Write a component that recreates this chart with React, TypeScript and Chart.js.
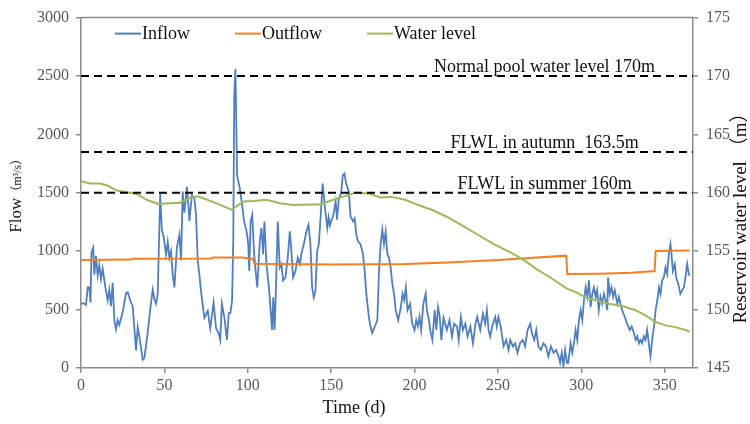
import React, { useEffect, useRef } from "react";
import { Chart, registerables } from "chart.js";

Chart.register(...registerables);

// ---------- data (day, value) ----------
const inflow: [number, number][] = [
  [0, 550], [1.5, 555], [3, 540], [4, 690], [5, 690], [5.7, 560], [6.3, 990], [7.3, 1030], [8, 800], [9, 960],
  [10, 790], [11, 880], [12, 760], [13, 850], [14.5, 700], [16, 580], [17, 670], [18, 530], [19, 730], [20, 410],
  [21, 330], [22, 410], [23, 370], [25, 480], [27, 640], [28, 650], [29.5, 580], [31, 530], [32, 340], [33, 150],
  [34, 350], [35, 270], [37, 70], [38, 85], [40, 300], [41.5, 500], [43, 670], [44, 590], [45, 550], [46, 630],
  [47.5, 1490], [48.5, 1180], [49.5, 1130], [51, 970], [52, 1080], [53, 940], [54, 1000], [55, 800], [56, 690], [57.5, 1030],
  [59, 1140], [60, 920], [61, 1510], [62, 1330], [63.5, 1550], [64.5, 1370], [65, 1260], [66.5, 1480], [68, 1450], [69, 1310],
  [70, 920], [71, 800], [72, 650], [73, 540], [74, 430], [76, 490], [77.5, 340], [78.5, 450], [79.5, 560], [81, 340],
  [82.5, 300], [83.5, 240], [84.5, 550], [86, 430], [87.5, 240], [88.6, 470], [89.6, 470], [90.6, 580], [91.3, 1080], [91.9, 2330],
  [92.6, 2560], [93.6, 1650], [95.2, 1540], [96.6, 1400], [97.8, 1255], [99.3, 1170], [100.3, 1060], [100.9, 830], [101.7, 1255], [102.7, 1310],
  [103.7, 1000], [104.7, 830], [105.7, 690], [107.2, 1085], [108.2, 1200], [109.2, 975], [110, 1255], [111.2, 890], [112.7, 690], [113.7, 495],
  [114.6, 325], [115.3, 605], [116.1, 325], [116.8, 635], [118, 1255], [119.2, 860], [120.2, 890], [121.2, 750], [122.6, 775], [124, 945],
  [125.2, 1170], [126, 1030], [127.2, 775], [128.6, 830], [130, 945], [131.3, 890], [132.1, 975], [133.6, 1060], [135.2, 1170], [136.4, 1225],
  [137.6, 1060], [138.6, 690], [139.6, 605], [140.6, 660], [141.6, 1000], [142.6, 1060], [143.9, 1340], [144.9, 1580], [146.3, 1370], [147.7, 1200],
  [148.5, 1290], [149.3, 1220], [150.3, 1270], [151, 1290], [152.7, 1425], [153.5, 1270], [154.6, 1450], [156, 1500], [157, 1650], [158, 1665],
  [159, 1580], [160.6, 1510], [161.6, 1300], [163.1, 1255], [164.1, 1280], [165.1, 1140], [166.1, 1085], [167.6, 1060], [169.1, 975], [170.1, 830],
  [171.1, 635], [172.6, 440], [173.6, 355], [174.6, 300], [176.2, 355], [177.7, 410], [178.7, 830], [179.7, 1060], [180.7, 1185], [181.7, 1060],
  [182.7, 1170], [183.7, 975], [184.7, 945], [185.7, 860], [186.7, 720], [187.7, 635], [188.7, 495], [190.2, 410], [191.8, 520], [192.8, 635],
  [193.8, 580], [194.8, 690], [195.8, 495], [197.3, 550], [198.6, 380], [200, 325], [201, 410], [202, 355], [203, 440], [204, 325],
  [205.3, 550], [206.7, 635], [207.4, 495], [208.7, 410], [209.4, 325], [210.7, 240], [212.1, 495], [213.1, 325], [214.1, 520], [215.1, 440],
  [216.1, 240], [217.4, 430], [219.4, 325], [221, 410], [222.5, 270], [223.8, 380], [225.5, 355], [226.5, 240], [227.8, 437], [229, 325],
  [230.5, 380], [231.8, 270], [233.5, 355], [235, 212], [236.6, 380], [237.6, 437], [239.4, 325], [241, 465], [242.4, 380], [243.4, 495],
  [244.4, 325], [245.4, 270], [247, 380], [248.4, 437], [249.3, 355], [250.3, 437], [251.7, 355], [253.4, 185], [255, 240], [256.4, 155],
  [257.4, 240], [259, 185], [260.4, 212], [261.7, 130], [263.3, 212], [264.9, 240], [266.3, 185], [267.8, 325], [269.4, 380], [270.4, 297],
  [271.8, 240], [273, 325], [274.3, 185], [275.8, 155], [277.3, 212], [278.8, 185], [280.3, 100], [281.8, 185], [283.4, 130], [284.9, 155],
  [286.4, 100], [287.3, 45], [288.3, 130], [289.3, 15], [290.3, 155], [291.4, 45], [292.2, 45], [293.6, 212], [294.6, 130], [295.6, 212],
  [296.6, 325], [297.6, 240], [298.6, 410], [299.6, 495], [300.6, 410], [301.6, 580], [302.6, 690], [303.6, 610], [304.6, 750], [305.6, 520],
  [306.6, 635], [307.6, 690], [308.6, 610], [309.5, 665], [310.5, 495], [311.5, 610], [312.5, 550], [313.6, 635], [314.6, 580], [315.6, 495],
  [316.1, 775], [317.1, 635], [318.1, 690], [319.1, 610], [320.1, 665], [321.6, 550], [322.6, 610], [323.5, 550], [324.5, 495], [326.1, 437],
  [327.5, 380], [329, 325], [330.2, 355], [331.6, 297], [332.6, 240], [333.6, 270], [334.6, 212], [335.5, 240], [336.5, 212], [337.5, 270],
  [338.5, 240], [339.5, 325], [340.5, 212], [341.5, 100], [342.5, 240], [343.6, 355], [344.6, 495], [345.6, 580], [346.6, 690], [347.5, 635],
  [348.5, 750], [349.5, 775], [350.5, 860], [351.5, 805], [352.5, 975], [353.5, 1060], [354.1, 975], [354.9, 830], [356.1, 890], [356.9, 775],
  [358.2, 720], [359.4, 635], [360.5, 665], [361.5, 690], [362.5, 775], [363.5, 890], [364.5, 805], [365, 790],
];

const outflow: [number, number][] = [
  [0, 925], [30, 928], [31, 935], [78, 938], [79, 946], [97, 945], [101, 938], [103, 935], [104, 892], [150, 887],
  [195, 890], [220, 903], [250, 925], [291, 962], [291.6, 805], [310, 808], [330, 815], [344, 830], [344.6, 1002], [365, 1005],
];

const waterLevel: [number, number][] = [
  [0, 161.0], [5.4, 160.8], [11.4, 160.8], [15.4, 160.65], [21.4, 160.2], [27.4, 160.05], [33.4, 159.9], [39.4, 159.4],
  [46.3, 159.05], [53.3, 159.1], [59.3, 159.15], [65.3, 159.55], [70.3, 159.7], [81.3, 159.1], [90.3, 158.55], [97.3, 159.25],
  [103.2, 159.3], [111.2, 159.4], [119.2, 159.1], [127.2, 158.95], [137.2, 159.0], [143.2, 159.0], [154.4, 159.55], [164.4, 160.0],
  [172.4, 159.95], [179.4, 159.6], [186.3, 159.65], [194.3, 159.4], [202.3, 158.95], [210.3, 158.55], [219.3, 157.95], [227.5, 157.3],
  [237.5, 156.45], [247.5, 155.6], [257.5, 154.9], [265.4, 154.25], [273.4, 153.45], [281.4, 152.75], [291.4, 151.8], [296.6, 151.5],
  [302.6, 151.05], [308.6, 150.8], [316.6, 150.5], [324.6, 150.3], [332.5, 149.95], [338.5, 149.5], [344.5, 148.95], [350.5, 148.65],
  [356.5, 148.5], [362.5, 148.25], [365, 148.1],
];

const refLevels = [170, 163.5, 160];
const refLabels = ["Normal pool water level 170m", "FLWL in autumn  163.5m", "FLWL in summer 160m"];
const labelDay = 278;

const xTicks = [0, 50, 100, 150, 200, 250, 300, 350];
const xMin = 0;
const xMax = 367;
const flowMin = 0;
const flowMax = 3000;
const flowStep = 500;
const levelMin = 145;
const levelMax = 175;
const levelStep = 5;

const seriesNames = ["Inflow", "Outflow", "Water level"];
const BLUE = "#4F7FC0";
const ORANGE = "#F7801E";
const GREEN = "#9BBB59";
const AXIS = "#8C8C8C";
const TICK = "#595959";
const SERIF = '"Liberation Serif", "Times New Roman", serif';

const pts = (arr: [number, number][]) => arr.map(([x, y]) => ({ x, y }));

const decor = {
  id: "decor",
  afterDatasetsDraw(chart: any) {
    const { ctx, chartArea: a, scales } = chart;
    ctx.save();
    // top border
    ctx.strokeStyle = AXIS;
    ctx.lineWidth = 1.5;
    ctx.beginPath();
    ctx.moveTo(a.left, a.top);
    ctx.lineTo(a.right, a.top);
    ctx.stroke();

    // reference labels
    ctx.fillStyle = "#111";
    ctx.font = `18px ${SERIF}`;
    ctx.textAlign = "center";
    ctx.textBaseline = "alphabetic";
    refLevels.forEach((lv, i) => {
      const y = scales.y1.getPixelForValue(lv);
      const x = scales.x.getPixelForValue(labelDay);
      ctx.fillText(refLabels[i], x, y - 4);
    });

    // legend inside the plot
    const colors = [BLUE, ORANGE, GREEN];
    let lx = a.left + 34;
    const ly = a.top + 16;
    ctx.textAlign = "left";
    ctx.textBaseline = "middle";
    seriesNames.forEach((name, i) => {
      ctx.strokeStyle = colors[i];
      ctx.lineWidth = 2;
      ctx.beginPath();
      ctx.moveTo(lx, ly);
      ctx.lineTo(lx + 26, ly);
      ctx.stroke();
      ctx.fillStyle = "#111";
      ctx.fillText(name, lx + 27, ly + 1);
      lx += 27 + ctx.measureText(name).width + 45;
    });

    // x title
    ctx.textAlign = "center";
    ctx.textBaseline = "middle";
    ctx.fillStyle = "#111";
    ctx.font = `18px ${SERIF}`;
    ctx.fillText("Time (d)", a.left + 273, a.bottom + 40);

    // left title (rotated)
    const cyL = (a.top + a.bottom) / 2;
    ctx.save();
    ctx.translate(17, cyL);
    ctx.rotate(-Math.PI / 2);
    ctx.textAlign = "left";
    ctx.textBaseline = "middle";
    ctx.font = `17px ${SERIF}`;
    const w1 = ctx.measureText("Flow").width;
    ctx.font = `12px ${SERIF}, "Noto Sans CJK SC"`;
    const w2 = ctx.measureText("（m³/s）").width;
    const start = -(w1 + w2) / 2;
    ctx.font = `17px ${SERIF}`;
    ctx.fillText("Flow", start, 0);
    ctx.font = `12px ${SERIF}, "Noto Sans CJK SC"`;
    ctx.fillText("（m³/s）", start + w1, 1);
    ctx.restore();

    // right title (rotated)
    ctx.save();
    ctx.translate(a.right + 48, a.top + 196);
    ctx.rotate(-Math.PI / 2);
    ctx.textAlign = "center";
    ctx.textBaseline = "middle";
    ctx.font = `19px ${SERIF}, "Noto Sans CJK SC"`;
    ctx.fillText("Reservoir water level （m）", 0, 0);
    ctx.restore();

    ctx.restore();
  },
};

export default function App() {
  const ref = useRef<HTMLCanvasElement | null>(null);
  useEffect(() => {
    document.body.style.margin = "0";
    const canvas = ref.current;
    if (!canvas) return;
    const tickFont = { family: SERIF, size: 16 };
    const plain = (v: any) => String(v);
    const gridCfg = { display: true, drawOnChartArea: false, drawTicks: true, tickLength: 5, color: AXIS, lineWidth: 1.5 };
    const chart = new Chart(canvas, {
      type: "line",
      data: {
        datasets: [
          { label: seriesNames[0], data: pts(inflow), borderColor: BLUE, borderWidth: 1.8, pointRadius: 0, yAxisID: "y", order: 3 },
          { label: seriesNames[1], data: pts(outflow), borderColor: ORANGE, borderWidth: 2, pointRadius: 0, yAxisID: "y", order: 2 },
          { label: seriesNames[2], data: pts(waterLevel), borderColor: GREEN, borderWidth: 2, pointRadius: 0, yAxisID: "y1", order: 1 },
          ...refLevels.map((lv) => ({
            label: "",
            data: [{ x: xMin, y: lv }, { x: xMax, y: lv }],
            borderColor: "#000",
            borderWidth: 2,
            borderDash: [8, 5],
            pointRadius: 0,
            yAxisID: "y1",
            order: 0,
          })),
        ],
      },
      options: {
        responsive: false,
        animation: false,
        layout: { padding: { top: 16, left: 0, right: 0, bottom: 0 } },
        plugins: { legend: { display: false }, tooltip: { enabled: false }, title: { display: false } },
        scales: {
          x: {
            type: "linear",
            min: xMin,
            max: xMax,
            afterBuildTicks: (s: any) => {
              s.ticks = xTicks.map((v) => ({ value: v }));
            },
            afterFit: (s: any) => {
              s.height = 56;
            },
            ticks: { font: tickFont, color: TICK, padding: 3, maxRotation: 0, autoSkip: false, callback: plain },
            grid: gridCfg,
            border: { display: true, color: AXIS, width: 1.5 },
          },
          y: {
            position: "left",
            min: flowMin,
            max: flowMax,
            afterFit: (s: any) => {
              s.width = 81;
            },
            ticks: { stepSize: flowStep, font: tickFont, color: TICK, padding: 7, callback: plain },
            grid: gridCfg,
            border: { display: true, color: AXIS, width: 1.5 },
          },
          y1: {
            position: "right",
            min: levelMin,
            max: levelMax,
            afterFit: (s: any) => {
              s.width = 57;
            },
            ticks: { stepSize: levelStep, font: tickFont, color: TICK, padding: 8, callback: plain },
            grid: gridCfg,
            border: { display: true, color: AXIS, width: 1.5 },
          },
        },
      },
      plugins: [decor],
    } as any);
    return () => chart.destroy();
  }, []);
  return <canvas ref={ref} width={750} height={424} style={{ display: "block" }} />;
}
